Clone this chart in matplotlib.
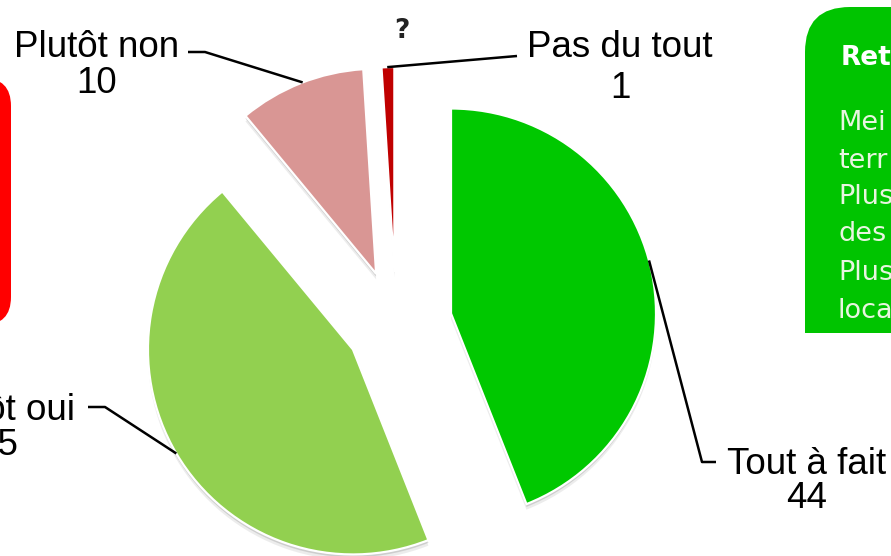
import matplotlib.pyplot as plt
import numpy as np
import matplotlib.patheffects as pe
from matplotlib.patches import FancyBboxPatch, Rectangle

# données du graphique
categories = ["Tout à fait", "Plutôt oui", "Plutôt non", "Pas du tout", "?"]
values = [44, 45, 10, 1, 0]
colors = ["#00C800", "#92D050", "#D99694", "#C00000", "#FFFFFF"]

# texte de l'encadré vert (coupé par le bord droit)
box_title = "Ret"
box_lines = ["Mei", "terr", "Plus", "des", "Plus", "loca"]

W, H = 891, 556
fig = plt.figure(figsize=(W / 100, H / 100), dpi=100)
ax = fig.add_axes([0, 0, 1, 1])

# camembert éclaté, unités = pixels
cx, cy, r = 396, H - 324, 205
explode = [56, 50, 54, 52, 52]
wedges, _ = ax.pie(values, colors=colors, explode=explode, radius=r,
                   center=(cx, cy), startangle=90, counterclock=False,
                   wedgeprops=dict(edgecolor="white", linewidth=1.6))
for w in wedges:
    w.set_path_effects([
        pe.SimplePatchShadow(offset=(0, -4), shadow_rgbFace="#999999", alpha=0.18),
        pe.SimplePatchShadow(offset=(0, -2), shadow_rgbFace="#888888", alpha=0.3),
        pe.Normal()])

ax.set_xlim(0, W)
ax.set_ylim(0, H)
ax.set_aspect("equal")
ax.axis("off")


def arc_point(w, ang):
    a = np.radians(ang)
    return w.center[0] + w.r * np.cos(a), w.center[1] + w.r * np.sin(a)


font = dict(family="Liberation Sans", fontsize=26.5, color="black")

# étiquettes avec lignes de rappel
leaders = [
    (0, 15, [(702, H - 462), (716, H - 462)]),
    (1, 210.5, [(105, H - 407), (88, H - 407)]),
    (2, 111, [(205, H - 52), (188, H - 52)]),
    (3, 92, [(517, H - 56)]),
]
for i, ang, pts in leaders:
    x0, y0 = arc_point(wedges[i], ang)
    xs = [x0] + [p[0] for p in pts]
    ys = [y0] + [p[1] for p in pts]
    ax.plot(xs, ys, color="black", lw=1.8, solid_capstyle="butt")

label_pos = [(807, 474, 508), (-2, 420, 455), (97, 57, 93), (620, 57, 98)]
for i, (x, y1, y2) in enumerate(label_pos):
    ax.text(x, H - y1, categories[i], ha="center", va="baseline", **font)
    ax.text(x, H - y2, str(values[i]), ha="center", va="baseline", **font)

ax.text(402, H - 38, categories[4], ha="center", va="baseline",
        family="DejaVu Sans", fontsize=19, fontweight="bold", color="#222222")

# encadré rouge à gauche
red = FancyBboxPatch((-80, H - 325), 91, 247,
                     boxstyle="round,pad=0,rounding_size=28",
                     facecolor="#FF0000", edgecolor="none")
ax.add_patch(red)

# encadré vert à droite
green = FancyBboxPatch((805, H - 420), 200, 413,
                       boxstyle="round,pad=0,rounding_size=45",
                       facecolor="#00C400", edgecolor="none")
ax.add_patch(green)
clip = Rectangle((790, H - 333), 200, 340, transform=ax.transData)
green.set_clip_path(clip)

ax.text(841, H - 65, box_title, ha="left", va="baseline", family="DejaVu Sans",
        fontsize=19, fontweight="bold", color="white")
line_y = [130, 168, 204, 241, 280, 318]
for txt, y in zip(box_lines, line_y):
    t = ax.text(838, H - y, txt, ha="left", va="baseline", family="DejaVu Sans",
                fontsize=19.5, color="#E8F5E0")
    t.set_clip_path(clip)

fig.savefig("out.png", dpi=100)
